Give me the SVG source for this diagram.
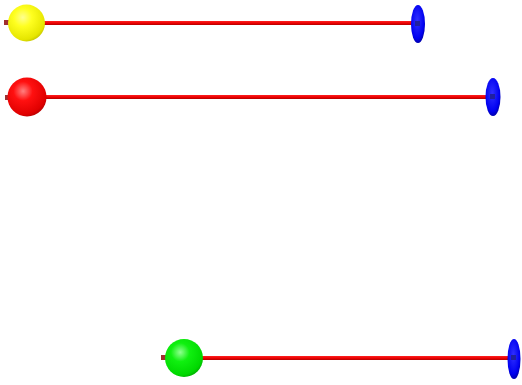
<svg xmlns="http://www.w3.org/2000/svg" width="522" height="385" viewBox="0 0 522 385">
<defs>
<radialGradient id="gy" cx="0.4" cy="0.35" r="0.7"><stop offset="0" stop-color="#ffff90"/><stop offset="0.35" stop-color="#ffff20"/><stop offset="0.85" stop-color="#e6e600"/><stop offset="1" stop-color="#c0c000"/></radialGradient>
<radialGradient id="gr" cx="0.4" cy="0.35" r="0.7"><stop offset="0" stop-color="#ff8080"/><stop offset="0.35" stop-color="#ff1010"/><stop offset="0.85" stop-color="#e00000"/><stop offset="1" stop-color="#b00000"/></radialGradient>
<radialGradient id="gg" cx="0.4" cy="0.35" r="0.7"><stop offset="0" stop-color="#90ff90"/><stop offset="0.35" stop-color="#10f010"/><stop offset="0.85" stop-color="#00d800"/><stop offset="1" stop-color="#00a800"/></radialGradient>
<radialGradient id="gb" cx="0.45" cy="0.4" r="0.6"><stop offset="0" stop-color="#3030ff"/><stop offset="0.8" stop-color="#0000f0"/><stop offset="1" stop-color="#0000b0"/></radialGradient>
<linearGradient id="rod" x1="0" y1="0" x2="0" y2="1"><stop offset="0" stop-color="#ff2020"/><stop offset="0.6" stop-color="#e80000"/><stop offset="1" stop-color="#b00000"/></linearGradient>
</defs>
<style>
.rod{fill:url(#rod)}
.stub{fill:#a03030}
.disk{fill:url(#gb)}
.core{fill:#2020a0}
</style>
<g id="molecule-yellow">
<rect class="stub" x="4" y="20" width="8" height="5"/>
<rect class="rod" x="40" y="21" width="378" height="4"/>
<circle cx="26.5" cy="23" r="18.5" fill="url(#gy)"/>
<ellipse class="disk" cx="418" cy="24" rx="7" ry="19"/>
<rect class="core" x="415" y="21" width="5" height="5"/>
</g>
<g id="molecule-red">
<rect class="stub" x="5" y="95" width="8" height="5"/>
<rect class="rod" x="42" y="95" width="451" height="4"/>
<circle cx="27" cy="97" r="19.5" fill="url(#gr)"/>
<ellipse class="disk" cx="493" cy="97" rx="7.5" ry="19"/>
<rect class="core" x="490" y="94" width="5" height="5"/>
</g>
<g id="molecule-green">
<rect class="stub" x="161" y="355" width="8" height="5"/>
<rect class="rod" x="198" y="356" width="316" height="4"/>
<circle cx="184" cy="358" r="19" fill="url(#gg)"/>
<ellipse class="disk" cx="514" cy="359" rx="6.5" ry="20"/>
<rect class="core" x="511" y="355" width="5" height="5"/>
</g>
</svg>
